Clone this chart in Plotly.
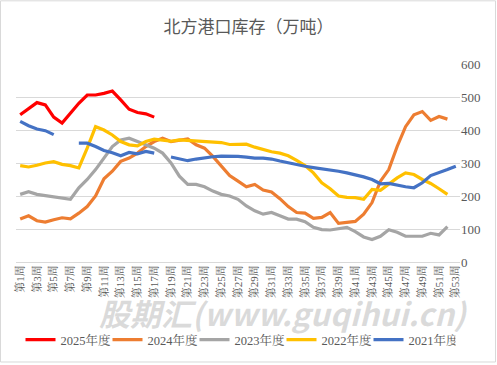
import plotly.graph_objects as go

weeks = [f"第{i}周" for i in range(1, 54)]
tick_labels = [f"第{i}周" for i in range(1, 54, 2)]

y2025 = [446, 465, 483, 476, 439, 421, 452, 481, 506, 506, 511, 518, 491, 463, 453, 449, 439]
y2024 = [130, 140, 125, 121, 128, 134, 131, 148, 168, 200, 252, 275, 305, 315, 330, 350, 365, 375, 365, 370,
         373, 355, 345, 320, 290, 262, 245, 228, 235, 218, 212, 192, 168, 150, 148, 132, 135, 150, 117, 120,
         123, 145, 180, 245, 280, 350, 410, 446, 456, 429, 441, 433]
y2023 = [205, 213, 205, 201, 198, 195, 190, 225, 250, 280, 315, 350, 370, 375, 365, 355, 345, 330, 300, 260,
         235, 235, 228, 215, 205, 200, 190, 170, 155, 145, 150, 140, 130, 130, 122, 105, 98, 97, 102, 105,
         92, 76, 68, 78, 98, 90, 78, 77, 78, 87, 82, 107]
y2022 = [292, 288, 293, 300, 304, 296, 292, 285, 345, 410, 400, 385, 365, 355, 352, 365, 372, 368, 366, 370,
         368, 366, 364, 363, 362, 356, 356, 357, 348, 340, 334, 330, 322, 308, 292, 270, 240, 222, 200, 196,
         195, 190, 220, 217, 235, 255, 270, 265, 250, 238, 222, 205]
y2021 = [426, 413, 403, 398, 386, None, None, 360, 360, 350, 338, 331, 322, 332, 328, 335, 330, None, 318, 313,
         307, 312, 316, 319, 321, 321, 320, 318, 315, 315, 312, 306, 300, 296, 290, 286, 283, 280, 275, 270,
         265, 258, 250, 237, 238, 232, 228, 225, 240, 262, 270, 280, 290]

series = [
    ("2025年度", y2025, "#FF0000"),
    ("2024年度", y2024, "#ED7D31"),
    ("2023年度", y2023, "#A5A5A5"),
    ("2022年度", y2022, "#FFC000"),
    ("2021年度", y2021, "#4472C4"),
]

font_fam = "Liberation Serif, Noto Serif CJK SC, Noto Sans CJK SC, serif"

fig = go.Figure()
for name, vals, color in series:
    fig.add_trace(go.Scatter(
        x=weeks[:len(vals)], y=vals, name=name, mode="lines",
        line=dict(color=color, width=3.2), connectgaps=False,
    ))

fig.update_layout(
    width=497, height=365,
    margin=dict(l=16, r=37, t=64, b=102),
    paper_bgcolor="white", plot_bgcolor="white",
    title=dict(text="北方港口库存（万吨）", x=0.5, xanchor="center", y=0.926, yanchor="middle",
               font=dict(family="Noto Sans CJK SC, sans-serif", size=17, color="#595959")),
    showlegend=True,
    legend=dict(orientation="h", x=0.5, xanchor="center", y=-0.387, yanchor="middle",
                font=dict(family=font_fam, size=12.5, color="#595959"),
                itemwidth=30, entrywidth=42, entrywidthmode="pixels",
                tracegroupgap=0, bgcolor="rgba(0,0,0,0)"),
    xaxis=dict(type="category", categoryorder="array", categoryarray=weeks,
               range=[-0.5, 52.5], tickmode="array", tickvals=tick_labels, ticktext=tick_labels,
               tickangle=-90, showgrid=False, showline=False, ticks="",
               tickfont=dict(family=font_fam, size=11, color="#595959")),
    yaxis=dict(side="right", range=[0, 600], dtick=100, showgrid=True, gridcolor="#D9D9D9",
               gridwidth=1, zeroline=True, zerolinecolor="#D9D9D9", zerolinewidth=1, ticks="",
               tickfont=dict(family=font_fam, size=13, color="#595959")),
)

fig.add_shape(type="rect", xref="paper", yref="paper",
              x0=-15.5/444, x1=(495.5-16)/444, y0=-(363.5-263)/199, y1=(263-0.5)/199,
              line=dict(color="#D9D9D9", width=1), fillcolor="rgba(0,0,0,0)", layer="below")

fig.add_annotation(text="<b><i>股期汇(www.guqihui.cn)</i></b>", xref="paper", yref="paper",
                   x=(283-16)/444, y=(263-338)/199, showarrow=False,
                   font=dict(family="Noto Sans CJK SC, sans-serif", size=31, color="rgba(150,150,150,0.35)"))

fig.write_html("out.html", config={"displayModeBar": False},
               post_script="document.body.style.margin='0';")
